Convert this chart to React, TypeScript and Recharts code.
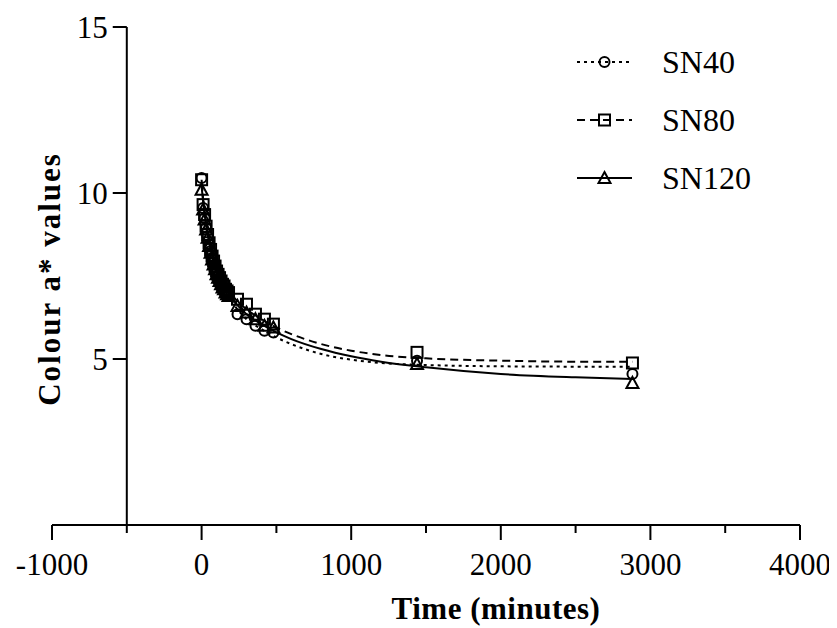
import { ComposedChart, Line, Scatter, XAxis, YAxis, ReferenceLine } from "recharts"

// measured times (minutes) and colour a* readings
const sampleTimes = [0, 10, 20, 30, 40, 50, 60, 70, 80, 90, 100, 110, 120, 130, 140, 150, 160, 170, 180, 240, 300, 360, 420, 480, 1440, 2880]
const sn40 = [10.45, 9.55, 9.25, 8.95, 8.7, 8.45, 8.25, 8.05, 7.9, 7.75, 7.6, 7.5, 7.4, 7.3, 7.2, 7.15, 7.05, 7.0, 6.95, 6.35, 6.2, 6.0, 5.85, 5.8, 4.95, 4.55]
const sn80 = [10.4, 9.65, 9.35, 9.0, 8.75, 8.5, 8.3, 8.1, 7.95, 7.8, 7.65, 7.55, 7.45, 7.35, 7.25, 7.2, 7.1, 7.05, 7.0, 6.8, 6.65, 6.35, 6.2, 6.05, 5.2, 4.88]
const sn120 = [10.1, 9.5, 9.2, 8.9, 8.65, 8.4, 8.2, 8.0, 7.85, 7.7, 7.55, 7.45, 7.35, 7.25, 7.15, 7.1, 7.0, 6.95, 6.9, 6.6, 6.4, 6.2, 6.0, 5.95, 4.85, 4.28]

// fitted decay curves
const fitTimes = [0, 20, 50, 100, 150, 200, 300, 400, 500, 600, 800, 1000, 1200, 1500, 2000, 2500, 2880]
const fit40 = [10.4, 9.4, 8.55, 7.7, 7.15, 6.75, 6.2, 5.9, 5.65, 5.45, 5.15, 4.98, 4.88, 4.82, 4.78, 4.77, 4.77]
const fit80 = [10.3, 9.4, 8.6, 7.8, 7.3, 6.95, 6.5, 6.2, 5.95, 5.75, 5.45, 5.25, 5.12, 5.02, 4.95, 4.92, 4.92]
const fit120 = [10.2, 9.35, 8.55, 7.75, 7.25, 6.85, 6.35, 6.05, 5.8, 5.6, 5.3, 5.08, 4.92, 4.75, 4.55, 4.45, 4.4]

const xTicks = [-1000, -500, 0, 500, 1000, 1500, 2000, 2500, 3000, 3500, 4000]
const yTicks = [5, 10, 15]

const FONT = "'Liberation Serif', 'Times New Roman', serif"
const Y_AXIS_AT = -500
const Y_TICK_LEN = 94 // in x units, ~14px

const toPoints = (ts: number[], vs: number[]) => ts.map((t, i) => ({ t, v: vs[i] }))

const pts40 = toPoints(sampleTimes, sn40)
const pts80 = toPoints(sampleTimes, sn80)
const pts120 = toPoints(sampleTimes, sn120)
const line40 = toPoints(fitTimes, fit40)
const line80 = toPoints(fitTimes, fit80)
const line120 = toPoints(fitTimes, fit120)

function CircleMark({ cx, cy }: any) {
    return <circle cx={cx} cy={cy} r={5} fill="none" stroke="#000" strokeWidth={2} />
}

function SquareMark({ cx, cy }: any) {
    return <rect x={cx - 5.5} y={cy - 5.5} width={11} height={11} fill="none" stroke="#000" strokeWidth={2} />
}

function TriangleMark({ cx, cy }: any) {
    return (
        <polygon
            points={`${cx},${cy - 6} ${cx + 6},${cy + 5} ${cx - 6},${cy + 5}`}
            fill="none"
            stroke="#000"
            strokeWidth={2}
        />
    )
}

function XTick(props: any) {
    const { x, y, payload } = props
    const major = payload.value % 1000 === 0
    return (
        <g>
            <line x1={x} x2={x} y1={y} y2={y + (major ? 15 : 8)} stroke="#000" strokeWidth={2} />
            {major && (
                <text x={x} y={y + 50} textAnchor="middle" fontSize={31} fontFamily={FONT} fill="#000">
                    {payload.value}
                </text>
            )}
        </g>
    )
}

const legendItems = [
    { name: "SN40", dash: "3 4", Mark: CircleMark },
    { name: "SN80", dash: "8 5", Mark: SquareMark },
    { name: "SN120", dash: undefined, Mark: TriangleMark },
]

export default function App() {
    return (
        <div style={{ position: "relative", width: 829, height: 620, background: "#fff" }}>
            <ComposedChart width={829} height={620} margin={{ top: 19, right: 37, left: 44, bottom: 43 }}>
                <XAxis
                    type="number"
                    dataKey="t"
                    domain={[-1000, 4000]}
                    ticks={xTicks}
                    interval={0}
                    height={60}
                    axisLine={{ stroke: "#000", strokeWidth: 2 }}
                    tickLine={false}
                    tickSize={0}
                    tickMargin={0}
                    tick={<XTick />}
                />
                <YAxis hide type="number" dataKey="v" domain={[0, 15]} />

                <ReferenceLine
                    segment={[{ x: Y_AXIS_AT, y: 0 }, { x: Y_AXIS_AT, y: 15 }]}
                    stroke="#000"
                    strokeWidth={2}
                />
                {yTicks.map((v) => (
                    <ReferenceLine
                        key={v}
                        segment={[{ x: Y_AXIS_AT - Y_TICK_LEN, y: v }, { x: Y_AXIS_AT, y: v }]}
                        stroke="#000"
                        strokeWidth={2}
                        label={{ value: String(v), position: "left", offset: 5, fontSize: 31, fontFamily: FONT, fill: "#000" }}
                    />
                ))}

                <Line data={line40} dataKey="v" type="monotone" stroke="#000" strokeWidth={2} strokeDasharray="3 4" dot={false} isAnimationActive={false} />
                <Line data={line80} dataKey="v" type="monotone" stroke="#000" strokeWidth={2} strokeDasharray="8 5" dot={false} isAnimationActive={false} />
                <Line data={line120} dataKey="v" type="monotone" stroke="#000" strokeWidth={2} dot={false} isAnimationActive={false} />

                <Scatter data={pts40} dataKey="v" shape={<CircleMark />} isAnimationActive={false} />
                <Scatter data={pts80} dataKey="v" shape={<SquareMark />} isAnimationActive={false} />
                <Scatter data={pts120} dataKey="v" shape={<TriangleMark />} isAnimationActive={false} />
            </ComposedChart>

            <svg width={829} height={620} style={{ position: "absolute", left: 0, top: 0, pointerEvents: "none" }}>
                <text x={488} y={611} textAnchor="middle" fontSize={31} fontWeight="bold" letterSpacing={0.5} fontFamily={FONT} fill="#000">
                    Time (minutes)
                </text>
                <text
                    transform="translate(52,271) rotate(-90)"
                    textAnchor="middle"
                    fontSize={31}
                    fontWeight="bold"
                    letterSpacing={2}
                    fontFamily={FONT}
                    fill="#000"
                >
                    Colour a* values
                </text>
                {legendItems.map(({ name, dash, Mark }, i) => {
                    const cy = 54 + i * 58
                    return (
                        <g key={name}>
                            <line x1={569} x2={624} y1={cy} y2={cy} stroke="#000" strokeWidth={2} strokeDasharray={dash} />
                            <Mark cx={596.5} cy={cy} />
                            <text x={654} y={cy + 11} fontSize={32} fontFamily={FONT} fill="#000">
                                {name}
                            </text>
                        </g>
                    )
                })}
            </svg>
        </div>
    )
}
